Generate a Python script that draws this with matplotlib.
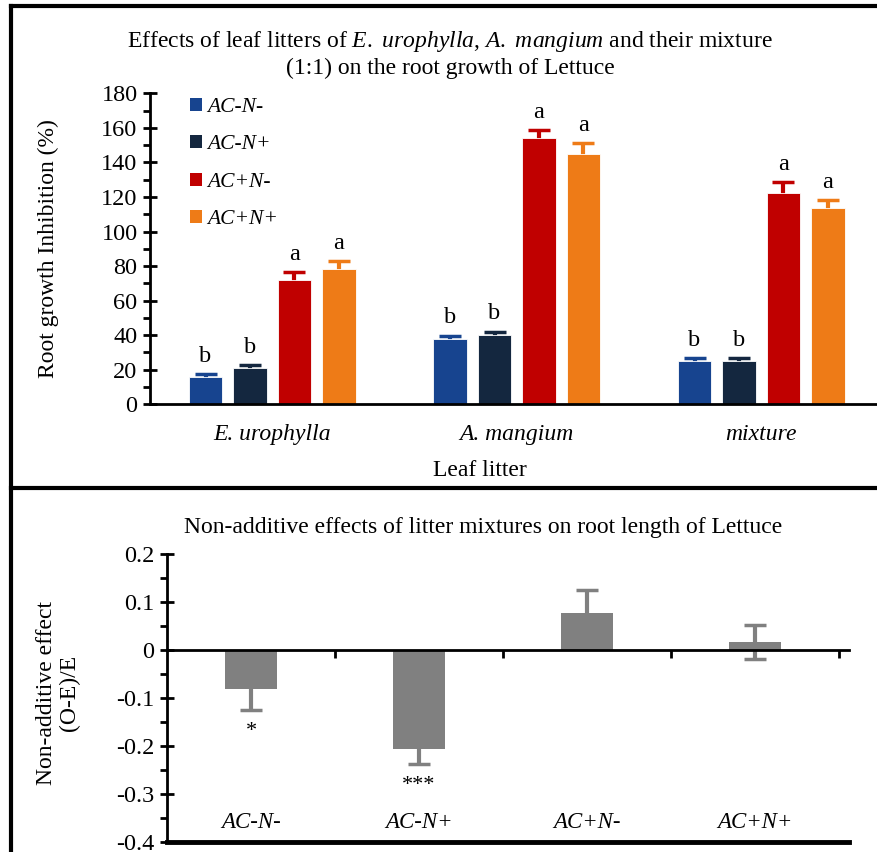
import matplotlib
matplotlib.use("Agg")
import matplotlib.pyplot as plt
import numpy as np
from matplotlib.lines import Line2D
from matplotlib.patches import Patch
from matplotlib.ticker import MultipleLocator

plt.rcParams['font.family'] = ['Liberation Serif', 'DejaVu Serif']
plt.rcParams['mathtext.fontset'] = 'custom'
plt.rcParams['mathtext.rm'] = 'Liberation Serif'
plt.rcParams['mathtext.it'] = 'Liberation Serif:italic'

# top panel data: root growth inhibition (%)
litters = ['E. urophylla', 'A. mangium', 'mixture']
treatments = ['AC-N-', 'AC-N+', 'AC+N-', 'AC+N+']
colors = ['#17448F', '#14273F', '#C00000', '#EE7B17']
inhibition = [
    [16.0, 21.2, 71.9, 78.3],
    [37.8, 40.3, 153.9, 145.0],
    [25.0, 25.0, 122.5, 113.8],
]
inhibition_err = [
    [1.7, 1.5, 4.7, 4.6],
    [2.0, 1.8, 4.8, 6.0],
    [1.8, 1.8, 6.0, 4.4],
]
letters = [
    ['b', 'b', 'a', 'a'],
    ['b', 'b', 'a', 'a'],
    ['b', 'b', 'a', 'a'],
]

# bottom panel data: non-additive effect (O-E)/E
effect = [-0.082, -0.207, 0.077, 0.017]
effect_err = [0.043, 0.031, 0.048, 0.036]
stars = ['*', '***', '', '']

W, H = 877, 852


def fx(px):
    return px / W


def fy(py):
    return 1 - py / H


def style_yaxis(ax, major, minor):
    """Excel-like y axis: major ticks cross the line, minor ticks outside."""
    ax.yaxis.set_major_locator(MultipleLocator(major))
    ax.yaxis.set_minor_locator(MultipleLocator(minor))
    ax.tick_params(axis='y', which='major', direction='inout', length=10,
                   width=2, labelsize=17.5, pad=4)
    ax.tick_params(axis='y', which='minor', direction='out', length=5, width=2)
    ax.spines['left'].set_linewidth(2)
    ax.spines['top'].set_visible(False)
    ax.spines['right'].set_visible(False)


def plot_top(fig):
    ax = fig.add_axes([fx(150), fy(404.3), (883.5 - 150) / W, (404.3 - 93.3) / H])
    step, width = 0.182, 0.139
    x = np.arange(len(litters))
    for j, name in enumerate(treatments):
        pos = x + (j - 1.5) * step
        vals = [row[j] for row in inhibition]
        errs = [row[j] for row in inhibition_err]
        ax.errorbar(pos, vals, yerr=errs, fmt='none', ecolor=colors[j],
                    elinewidth=3, capsize=8, capthick=2.5, zorder=1)
        ax.bar(pos, vals, width, color=colors[j], edgecolor='white',
               linewidth=0.6, zorder=2, label=name)
        for p, v, e, g in zip(pos, vals, errs, letters):
            ax.text(p, v + e + 7, g[j], ha='center', va='baseline', fontsize=17.5)

    ax.set_xlim(-0.5, 2.5)
    ax.set_ylim(0, 180)
    style_yaxis(ax, 20, 10)
    ax.spines['bottom'].set_linewidth(2)
    ax.set_xticks(x)
    ax.set_xticklabels(litters, fontsize=17, style='italic')
    ax.tick_params(axis='x', length=0, pad=14)

    handles = [Patch(facecolor=c, edgecolor='none') for c in colors]
    ax.legend(handles, treatments, loc='upper left', bbox_to_anchor=(0.055, 0.985),
              frameon=False, prop={'size': 15.5, 'style': 'italic'},
              handlelength=0.55, handleheight=0.55, handletextpad=0.25,
              labelspacing=0.85, borderpad=0, borderaxespad=0)

    fig.text(fx(450), fy(42), r'Effects of leaf litters of $\it{E.}$ $\it{urophylla}$, '
             r'$\it{A.}$ $\it{mangium}$ and their mixture', ha='center', va='center',
             fontsize=17)
    fig.text(fx(450), fy(68), '(1:1) on the root growth of Lettuce',
             ha='center', va='center', fontsize=17)
    fig.text(fx(48), fy(249), 'Root growth Inhibition (%)', rotation=90,
             ha='center', va='center', fontsize=17)
    fig.text(fx(480), fy(470), 'Leaf litter', ha='center', va='center',
             fontsize=17)


def plot_bottom(fig):
    ax = fig.add_axes([fx(167), fy(842), (849 - 167) / W, (842 - 554) / H])
    x = np.arange(len(treatments))
    ax.errorbar(x, effect, yerr=effect_err, fmt='none', ecolor='#808080',
                elinewidth=3, capsize=8, capthick=2.5, zorder=1)
    ax.bar(x, effect, 0.31, color='#808080', zorder=2)
    for xi, v, e, s in zip(x, effect, effect_err, stars):
        if s:
            ax.text(xi, v - e - 0.045, s, ha='center', va='center', fontsize=16)
    for xi, name in zip(x, treatments):
        ax.text(xi, -0.36, name, ha='center', va='center', fontsize=16.5,
                style='italic')

    ax.set_xlim(-0.5, 3.56)
    ax.set_ylim(-0.4, 0.2)
    style_yaxis(ax, 0.1, 0.05)
    ax.set_yticks(np.arange(-0.4, 0.21, 0.1))
    ax.set_yticklabels(['-0.4', '-0.3', '-0.2', '-0.1', '0', '0.1', '0.2'])
    ax.spines['bottom'].set_position(('data', 0))
    ax.spines['bottom'].set_linewidth(2)
    ax.set_xticks(np.arange(0.5, 4, 1.0))
    ax.set_xticklabels([])
    ax.tick_params(axis='x', direction='out', length=6, width=2)
    ax.axhline(-0.4, color='black', lw=3.5, clip_on=False, zorder=3)

    fig.text(fx(483), fy(528), 'Non-additive effects of litter mixtures on root '
             'length of Lettuce', ha='center', va='center', fontsize=17)
    fig.text(fx(58), fy(693), 'Non-additive effect\n(O-E)/E', rotation=90,
             ha='center', va='center', fontsize=17, linespacing=1.1)


def main():
    fig = plt.figure(figsize=(W / 100, H / 100), dpi=100)

    plot_top(fig)
    plot_bottom(fig)

    # panel borders
    border = dict(color='black', lw=3, transform=fig.transFigure)
    fig.add_artist(Line2D([fx(11), 1], [fy(6), fy(6)], **border))
    fig.add_artist(Line2D([fx(11), fx(11)], [fy(6), 0], **border))
    fig.add_artist(Line2D([fx(11), 1], [fy(488), fy(488)], **border))

    fig.savefig('out.png', dpi=100)


if __name__ == "__main__":
    main()
